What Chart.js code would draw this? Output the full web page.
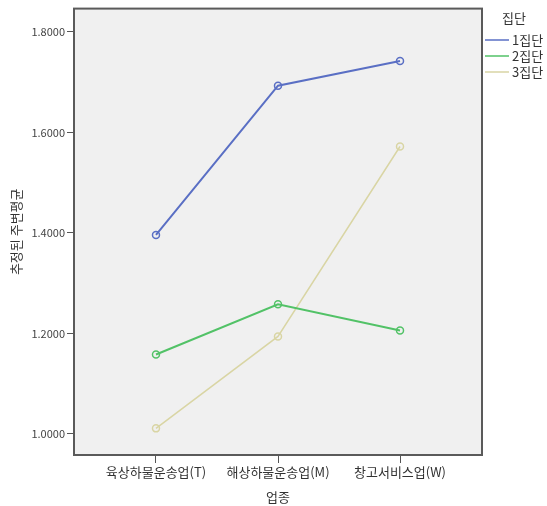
<!DOCTYPE html>
<html>
<head>
<meta charset="utf-8">
<script src="https://cdn.jsdelivr.net/npm/chart.js@4"></script>
<style>
  html, body { margin: 0; padding: 0; background: #fff; }
  #wrap { width: 547px; height: 506px; }
</style>
</head>
<body>
<div id="wrap"><canvas id="profileChart" width="547" height="506"></canvas></div>
<script>
// profile plot - estimated marginal means

// ===== data =====
const categories = ["육상하물운송업(T)", "해상하물운송업(M)", "창고서비스업(W)"];
const groupLabels = ["1집단", "2집단", "3집단"];
const group1 = [1.396, 1.693, 1.742];
const group2 = [1.158, 1.258, 1.206];
const group3 = [1.011, 1.194, 1.572];
const yTicks = [1.0, 1.2, 1.4, 1.6, 1.8];

const colors = ["#5a6fc4", "#52c267", "#d9d5a4"];
const FONT = "'Noto Sans CJK KR', 'Noto Sans', sans-serif";

function toPoints(arr) {
  return arr.map((v, i) => ({ x: i, y: v }));
}

// grey plot box behind the lines + frame
const plotBox = {
  id: "plotBox",
  beforeDraw(chart) {
    const { ctx, chartArea: a } = chart;
    ctx.save();
    ctx.fillStyle = "#f0f0f0";
    ctx.fillRect(a.left, a.top, a.right - a.left, a.bottom - a.top);
    ctx.restore();
  },
  afterDraw(chart) {
    const { ctx, chartArea: a } = chart;
    ctx.save();
    ctx.strokeStyle = "#5a5a5a";
    ctx.lineWidth = 2;
    ctx.strokeRect(a.left, a.top, a.right - a.left, a.bottom - a.top);
    ctx.restore();
  }
};

// legend on the right, spss style
const sideLegend = {
  id: "sideLegend",
  afterDraw(chart) {
    const { ctx } = chart;
    ctx.save();
    ctx.font = "13px " + FONT;
    ctx.fillStyle = "#333";
    ctx.textBaseline = "middle";
    ctx.fillText("집단", 502, 18);
    chart.data.datasets.forEach((ds, i) => {
      const y = 40 + i * 16;
      ctx.strokeStyle = ds.borderColor;
      ctx.lineWidth = 1.5;
      ctx.beginPath();
      ctx.moveTo(485, y);
      ctx.lineTo(509, y);
      ctx.stroke();
      ctx.fillStyle = "#333";
      ctx.fillText(ds.label, 512, y);
    });
    ctx.restore();
  }
};

const ctx = document.getElementById("profileChart").getContext("2d");
const chart = new Chart(ctx, {
  type: "line",
  data: {
    datasets: [group1, group2, group3].map((g, i) => ({
      label: groupLabels[i],
      data: toPoints(g),
      borderColor: colors[i],
      backgroundColor: "transparent",
      borderWidth: i === 2 ? 1.5 : 2,
      pointRadius: 3.5,
      pointBorderWidth: 1.5,
      pointBackgroundColor: "transparent",
      pointBorderColor: colors[i],
      tension: 0
    }))
  },
  options: {
    responsive: false,
    animation: false,
    layout: { padding: { top: 6, right: 65, left: 0, bottom: 0 } },
    plugins: {
      legend: { display: false },
      tooltip: { enabled: false }
    },
    scales: {
      x: {
        type: "linear",
        min: -0.672,
        max: 2.672,
        afterBuildTicks: (scale) => {
          scale.ticks = categories.map((c, i) => ({ value: i }));
        },
        afterFit: (scale) => { scale.height = 51; },
        grid: { drawOnChartArea: false, tickLength: 8, color: "#555", tickWidth: 1 },
        border: { display: false },
        ticks: {
          padding: 1,
          maxRotation: 0,
          autoSkip: false,
          color: "#333",
          font: { family: FONT, size: 13 },
          callback: (v) => categories[v]
        },
        title: {
          display: true,
          text: "업종",
          color: "#333",
          font: { family: FONT, size: 13 },
          padding: { top: 0, bottom: 1 }
        }
      },
      y: {
        min: 0.958,
        max: 1.8465,
        afterBuildTicks: (scale) => {
          scale.ticks = yTicks.map((v) => ({ value: v }));
        },
        afterFit: (scale) => { scale.width = 74; },
        grid: { drawOnChartArea: false, tickLength: 7, color: "#555", tickWidth: 1 },
        border: { display: false },
        ticks: {
          padding: 2,
          color: "#444",
          font: { family: FONT, size: 11 },
          callback: (v) => v.toFixed(4)
        },
        title: {
          display: true,
          text: "추정된 주변평균",
          color: "#333",
          font: { family: FONT, size: 13 },
          padding: { top: 8, bottom: 0 }
        }
      }
    }
  },
  plugins: [plotBox, sideLegend]
});
</script>
</body>
</html>
